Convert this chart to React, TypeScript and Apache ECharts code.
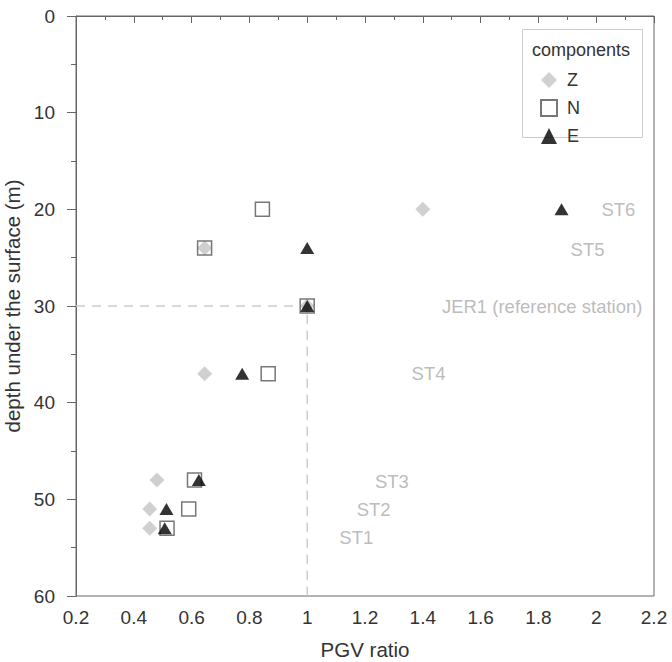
import React, { useEffect, useRef } from "react";
import * as echarts from "echarts";

const depths = [20, 24, 30, 37, 48, 51, 53];
const zRatio = [1.4, 0.645, 1.0, 0.645, 0.48, 0.455, 0.455];
const nRatio = [0.845, 0.645, 1.0, 0.865, 0.61, 0.59, 0.515];
const eRatio = [1.88, 1.0, 1.0, 0.775, 0.625, 0.513, 0.507];

const stationNames = ["ST6", "ST5", "JER1 (reference station)", "ST4", "ST3", "ST2", "ST1"];
const labelX = [2.077, 1.97, 1.813, 1.42, 1.293, 1.23, 1.17];
const labelDepth = [20, 24.2, 30, 37, 48.2, 51.1, 53.9];

const refX = 1.0;
const refDepth = 30;

const FONT = "Liberation Sans, Arial, sans-serif";

export default function App() {
  const ref = useRef<HTMLDivElement>(null);
  useEffect(() => {
    if (!ref.current) return;
    const chart = echarts.init(ref.current, undefined, { renderer: "svg" });
    const pts = (xs: number[]) => xs.map((x, i) => [x, depths[i]]);
    chart.setOption({
      animation: false,
      backgroundColor: "#fff",
      textStyle: { fontFamily: FONT },
      grid: {
        left: 76,
        top: 16,
        right: 18,
        bottom: 66,
        outerBoundsMode: "none",
        containLabel: false,
        show: true,
        borderColor: "#666",
        borderWidth: 1,
      },
      legend: {
        orient: "vertical",
        left: 535,
        top: 66,
        itemWidth: 16,
        itemHeight: 16,
        itemGap: 10,
        textStyle: { fontSize: 18, lineHeight: 16, color: "#333", fontFamily: FONT, padding: [0, 0, 0, 5] },
        data: ["Z", "N", "E"],
      },
      graphic: [
        {
          type: "rect",
          left: 522,
          top: 29,
          shape: { width: 120, height: 108 },
          style: { fill: "#fff", stroke: "#ccc", lineWidth: 1 },
          z: 0,
        },
        {
          type: "text",
          left: 532,
          top: 41,
          style: { text: "components", fontSize: 18, fill: "#333", fontFamily: FONT },
        },
      ],
      xAxis: {
        type: "value",
        min: 0.2,
        max: 2.2,
        interval: 0.2,
        name: "PGV ratio",
        nameLocation: "middle",
        nameGap: 43,
        nameTextStyle: { fontSize: 20.5, color: "#333", fontFamily: FONT },
        splitLine: { show: false },
        axisLine: { show: true, lineStyle: { color: "#666" } },
        axisTick: { show: true, length: 7, lineStyle: { color: "#666" } },
        minorTick: { show: true, splitNumber: 2, length: 4, lineStyle: { color: "#666" } },
        axisLabel: { fontSize: 19, color: "#333", margin: 12, fontFamily: FONT },
      },
      yAxis: {
        type: "value",
        inverse: true,
        min: 0,
        max: 60,
        interval: 10,
        name: "depth under the surface (m)",
        nameLocation: "middle",
        nameGap: 44,
        nameTextStyle: { fontSize: 20.5, color: "#333", fontFamily: FONT },
        splitLine: { show: false },
        axisLine: { show: true, lineStyle: { color: "#666" } },
        axisTick: { show: true, length: 9, lineStyle: { color: "#666" } },
        minorTick: { show: true, splitNumber: 2, length: 5, lineStyle: { color: "#666" } },
        axisLabel: { fontSize: 19, color: "#333", margin: 21, fontFamily: FONT },
      },
      series: [
        {
          name: "ref",
          type: "line",
          data: [
            [0.2, refDepth],
            [refX, refDepth],
            [refX, 60],
          ],
          symbol: "none",
          lineStyle: { color: "#ccc", width: 1.5, type: [9, 7] },
          z: 1,
          silent: true,
        },
        {
          name: "Z",
          type: "scatter",
          data: pts(zRatio),
          symbol: "diamond",
          symbolSize: 15,
          itemStyle: { color: "#c4c4c4" },
          z: 2,
        },
        {
          name: "N",
          type: "scatter",
          data: pts(nRatio),
          symbol: "rect",
          symbolSize: 14,
          itemStyle: { color: "rgba(255,255,255,0)", borderColor: "#555", borderWidth: 1.5 },
          z: 3,
        },
        {
          name: "E",
          type: "scatter",
          data: pts(eRatio),
          symbol: "triangle",
          symbolSize: [14, 12],
          itemStyle: { color: "#000" },
          z: 4,
        },
        {
          name: "labels",
          type: "scatter",
          data: labelX.map((x, i) => ({ value: [x, labelDepth[i]], name: stationNames[i] })),
          symbolSize: 0,
          silent: true,
          label: {
            show: true,
            position: "inside",
            formatter: (p: any) => p.name,
            fontSize: 18.5,
            color: "#aaa",
            fontFamily: FONT,
          },
          z: 5,
        },
      ],
    });
    return () => chart.dispose();
  }, []);
  return (
    <div
      ref={ref}
      style={{ position: "fixed", left: 0, top: 0, width: 672, height: 662 }}
    />
  );
}
